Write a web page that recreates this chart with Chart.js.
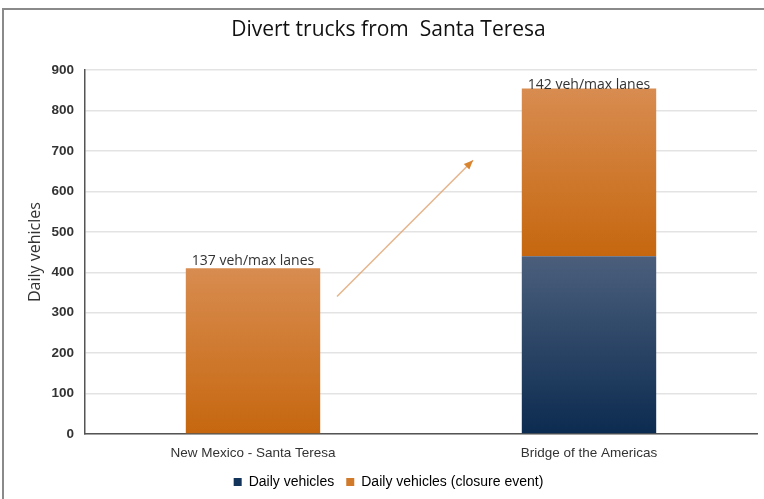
<!DOCTYPE html>
<html>
<head>
<meta charset="utf-8">
<script src="https://cdn.jsdelivr.net/npm/chart.js@4/dist/chart.umd.min.js"></script>
<style>
  body { margin: 0; background: #fff; }
  .frame { position: absolute; left: 2px; top: 8px; width: 770px; height: 500px; border: 2px solid #8a8a8a; box-sizing: border-box; }
  .wrap { position: absolute; left: 0; top: 0; width: 764px; height: 499px; }
</style>
</head>
<body>
<div class="frame"></div>
<div class="wrap"><canvas id="truckChart" width="764" height="499"></canvas></div>
<script>
const categories = ['New Mexico - Santa Teresa', 'Bridge of the Americas']
const dailyVehicles = [0, 440]
const closureVehicles = [410, 415]
const barLabels = ['137 veh/max lanes', '142 veh/max lanes']
const yTicks = [0, 100, 200, 300, 400, 500, 600, 700, 800, 900]

// arrow start/end: fraction of the way to the next category, value
const arrowFrom = [0.25, 340]
const arrowTo = [0.655, 677]

const segmentGradient = (chart, bottomVal, topVal, light, dark) => {
  const y = chart.scales.y
  if (!y) return dark
  const top = y.getPixelForValue(topVal)
  const bottom = y.getPixelForValue(bottomVal)
  const g = chart.ctx.createLinearGradient(0, top, 0, bottom)
  g.addColorStop(0, light)
  g.addColorStop(1, dark)
  return g
}

const barNotes = {
  id: 'barNotes',
  afterDatasetsDraw(chart) {
    const { ctx } = chart
    const xs = chart.scales.x
    const ys = chart.scales.y
    const step = xs.getPixelForValue(1) - xs.getPixelForValue(0)
    ctx.save()

    // arrow between the bars
    const x1 = xs.getPixelForValue(0) + arrowFrom[0] * step
    const y1 = ys.getPixelForValue(arrowFrom[1])
    const x2 = xs.getPixelForValue(0) + arrowTo[0] * step
    const y2 = ys.getPixelForValue(arrowTo[1])
    ctx.strokeStyle = 'rgba(222, 160, 110, 0.8)'
    ctx.lineWidth = 1.5
    ctx.beginPath()
    ctx.moveTo(x1, y1)
    ctx.lineTo(x2, y2)
    ctx.stroke()
    const ang = Math.atan2(y2 - y1, x2 - x1)
    ctx.fillStyle = '#d98530'
    ctx.beginPath()
    ctx.moveTo(x2, y2)
    ctx.lineTo(x2 - 10 * Math.cos(ang - 0.4), y2 - 10 * Math.sin(ang - 0.4))
    ctx.lineTo(x2 - 10 * Math.cos(ang + 0.4), y2 - 10 * Math.sin(ang + 0.4))
    ctx.closePath()
    ctx.fill()

    // labels on bar tops
    const meta = chart.getDatasetMeta(1)
    ctx.font = '14px "Open Sans", sans-serif'
    ctx.fillStyle = '#333'
    ctx.textAlign = 'center'
    ctx.textBaseline = 'bottom'
    meta.data.forEach((bar, i) => {
      const off = i === 0 ? 0 : 4
      ctx.fillText(barLabels[i], bar.x, bar.y + off)
    })
    ctx.restore()
  },
}

new Chart(document.getElementById('truckChart').getContext('2d'), {
  type: 'bar',
  data: {
    labels: categories,
    datasets: [
      {
        label: 'Daily vehicles',
        data: dailyVehicles,
        backgroundColor: (c) => segmentGradient(c.chart, 0, dailyVehicles[c.dataIndex] || 0, '#4b5f7c', '#0c2b50'),
        borderWidth: 0,
        barPercentage: 0.4,
        categoryPercentage: 1,
      },
      {
        label: 'Daily vehicles (closure event)',
        data: closureVehicles,
        backgroundColor: (c) => {
          const base = dailyVehicles[c.dataIndex] || 0
          return segmentGradient(c.chart, base, base + (closureVehicles[c.dataIndex] || 0), '#d88c50', '#c6670f')
        },
        borderWidth: 0,
        barPercentage: 0.4,
        categoryPercentage: 1,
      },
    ],
  },
  options: {
    responsive: false,
    animation: false,
    layout: { padding: { left: 20, right: 7, top: 0, bottom: 0 } },
    scales: {
      x: {
        stacked: true,
        grid: { display: false },
        border: { color: '#555', width: 1.5 },
        ticks: { color: '#333', font: { family: 'Arial, "Liberation Sans"', size: 13.5 }, padding: 3 },
        afterFit: (s) => { s.height = 29 },
      },
      y: {
        stacked: true,
        min: 0,
        max: 900,
        afterBuildTicks: (axis) => { axis.ticks = yTicks.map((v) => ({ value: v })) },
        afterFit: (s) => { s.width = 65 },
        grid: { color: '#e3e3e3', lineWidth: 1.5, drawTicks: false },
        border: { color: '#555', width: 1.5 },
        ticks: { color: '#333', font: { family: 'Arial, "Liberation Sans"', size: 13.5, weight: 'bold' }, padding: 11 },
        title: { display: true, text: 'Daily vehicles', color: '#333', padding: { top: 6, bottom: 0 }, font: { family: '"Open Sans", sans-serif', size: 16 } },
      },
    },
    plugins: {
      title: {
        display: true,
        text: 'Divert trucks from  Santa Teresa',
        color: '#111',
        font: { family: '"Open Sans", sans-serif', size: 21, weight: 'normal' },
        padding: { top: 17, bottom: 28 },
      },
      legend: {
        position: 'bottom',
        labels: {
          color: '#333',
          font: { family: 'Arial, "Liberation Sans"', size: 14 },
          boxWidth: 8,
          boxHeight: 8,
          padding: 12,
          generateLabels: (chart) => chart.data.datasets.map((d, i) => ({
            text: d.label,
            fillStyle: i === 0 ? '#12335a' : '#d07a2a',
            strokeStyle: 'transparent',
            lineWidth: 0,
            datasetIndex: i,
          })),
        },
      },
      tooltip: { enabled: false },
    },
  },
  plugins: [barNotes],
})
</script>
</body>
</html>
